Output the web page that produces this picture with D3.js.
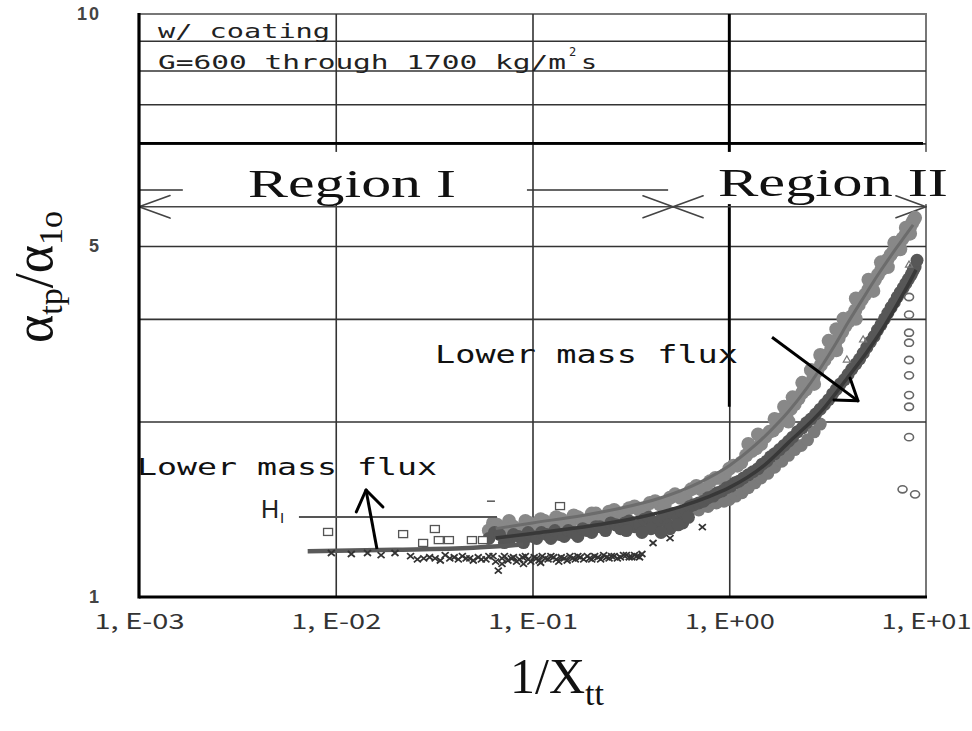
<!DOCTYPE html>
<html>
<head>
<meta charset="utf-8">
<title>alpha_tp / alpha_lo vs 1/Xtt</title>
<script src="https://d3js.org/d3.v7.min.js"></script>
<style>
	body{margin:0;background:#fff;}
</style>
</head>
<body>
<div id="chart"></div>
<script>
var w = 972, h = 731;

// ticks / gridlines
var xTickValues = [1e-3, 1e-2, 1e-1, 1, 10];
var xTickLabels = ["1, E-03", "1, E-02", "1, E-01", "1, E+00", "1, E+01"];
var xGridValues = [1e-2, 1e-1, 1];
var yTickValues = [1, 4, 10];          // the "5" label sits on the 4 gridline in the original
var yTickLabels = ["1", "5", "10"];
var yGridValues = [2, 3, 4, 5, 6, 7, 8, 9];

// measured points [1/Xtt, alpha_tp/alpha_lo]
var lightCloud = [
	[0.060,1.30],[0.063,1.34],[0.066,1.33],[0.069,1.31],[0.072,1.28],[0.076,1.35],[0.080,1.32],[0.084,1.30],
	[0.088,1.29],[0.092,1.35],[0.096,1.34],[0.100,1.31],[0.105,1.31],[0.110,1.36],[0.115,1.35],[0.120,1.33],
	[0.125,1.32],[0.132,1.37],[0.14,1.36],[0.147,1.34],[0.155,1.33],[0.162,1.38],[0.17,1.37],[0.18,1.35],
	[0.19,1.35],[0.20,1.39],[0.21,1.39],[0.22,1.37],[0.23,1.36],[0.245,1.40],[0.26,1.41],[0.275,1.39],
	[0.29,1.38],[0.31,1.42],[0.33,1.43],[0.35,1.41],[0.37,1.41],[0.395,1.45],[0.42,1.46],[0.445,1.44],
	[0.47,1.44],[0.50,1.48],[0.53,1.50],[0.565,1.48],[0.60,1.48],[0.64,1.53],[0.68,1.55],[0.72,1.53],
	[0.76,1.53],[0.80,1.58],[0.85,1.60],[0.90,1.60],[0.95,1.62],[1.00,1.66],[1.05,1.68],[1.10,1.68],
	[1.15,1.70],[1.22,1.75],[1.30,1.78],[1.37,1.80],[1.45,1.83],[1.52,1.88],[1.60,1.92],[1.67,1.93],
	[1.75,1.96],[1.85,2.02],[1.95,2.06],[2.05,2.10],[2.15,2.14],[2.25,2.19],[2.35,2.24],[2.45,2.27],
	[2.55,2.32],[2.68,2.38],[2.80,2.44],[2.92,2.50],[3.05,2.55],[3.17,2.60],[3.30,2.66],[3.45,2.72],
	[3.60,2.78],[3.75,2.85],[3.90,2.92],[4.05,2.97],[4.20,3.03],[4.37,3.10],[4.55,3.17],[4.72,3.24],
	[4.90,3.30],[5.10,3.37],[5.30,3.44],[5.50,3.50],[5.70,3.57],[5.92,3.64],[6.15,3.72],[6.37,3.79],
	[6.60,3.86],[6.85,3.92],[7.10,3.99],[7.35,4.05],[7.60,4.12],[7.85,4.18],[8.10,4.25],[8.30,4.31],
	[8.50,4.38],[8.65,4.43],[8.80,4.47],
	[1.40,1.90],[1.70,2.02],[2.10,2.20],[2.60,2.45],[3.20,2.75],[3.80,3.00],[4.40,3.25],[5.10,3.50],
	[5.90,3.75],[6.90,4.05],[7.90,4.30],[1.25,1.83],[1.9,2.12],[2.35,2.33],[2.9,2.6],[3.5,2.88],
	[2.00,2.00],[2.70,2.32],[3.50,2.65],[4.40,3.00],[5.40,3.35],[6.40,3.68],[7.40,3.95],[8.30,4.20]
];
// grey blobs hanging under the lower band
var midCloud = [
	[0.62,1.40],[0.70,1.41],[0.78,1.43],[0.86,1.45],[0.94,1.46],[1.00,1.47],[1.08,1.49],[1.16,1.51],
	[1.25,1.54],[1.35,1.57],[1.45,1.60],[1.57,1.63],[1.70,1.67],[1.85,1.71],[2.00,1.75],[2.15,1.79],
	[2.32,1.82],[2.50,1.86],[2.70,1.92],[2.90,1.98]
];
var darkCloud = [
	[0.060,1.26],[0.064,1.29],[0.068,1.28],[0.072,1.24],[0.076,1.25],[0.080,1.28],[0.085,1.27],[0.090,1.24],
	[0.095,1.29],[0.100,1.27],[0.105,1.26],[0.111,1.29],[0.118,1.28],[0.124,1.26],[0.13,1.30],[0.137,1.28],
	[0.145,1.27],[0.152,1.30],[0.16,1.29],[0.17,1.27],[0.18,1.31],[0.19,1.30],[0.20,1.29],[0.21,1.32],
	[0.22,1.32],[0.235,1.30],[0.25,1.34],[0.265,1.33],[0.28,1.31],[0.295,1.34],[0.31,1.35],[0.33,1.32],
	[0.35,1.33],[0.37,1.36],[0.39,1.37],[0.415,1.34],[0.44,1.35],[0.465,1.37],[0.49,1.33],[0.52,1.39],
	[0.55,1.37],[0.575,1.40],[0.60,1.41],[0.63,1.43],[0.66,1.44],[0.70,1.45],[0.74,1.46],[0.78,1.48],
	[0.83,1.49],[0.87,1.51],[0.92,1.52],[0.97,1.54],[1.02,1.55],[1.07,1.57],[1.12,1.58],[1.18,1.60],
	[1.25,1.62],[1.32,1.64],[1.40,1.66],[1.47,1.69],[1.55,1.71],[1.62,1.74],[1.70,1.76],[1.80,1.79],
	[1.90,1.82],[2.00,1.85],[2.10,1.88],[2.22,1.92],[2.35,1.95],[2.47,1.99],[2.60,2.02],[2.75,2.06],
	[2.90,2.10],[3.05,2.14],[3.20,2.18],[3.35,2.23],[3.50,2.27],[3.67,2.32],[3.85,2.36],[4.02,2.41],
	[4.20,2.46],[4.40,2.51],[4.60,2.56],[4.80,2.62],[5.00,2.68],[5.22,2.74],[5.45,2.80],[5.67,2.87],
	[5.90,2.93],[6.15,3.00],[6.40,3.07],[6.65,3.14],[6.90,3.20],[7.15,3.27],[7.40,3.33],[7.65,3.39],
	[7.90,3.45],[8.15,3.51],[8.40,3.57],[8.60,3.63],[8.80,3.68],[9.00,3.78],
	[0.30,1.30],[0.40,1.31],[0.50,1.31],[0.58,1.34],[0.45,1.29],[0.36,1.29],[0.55,1.33],[0.62,1.37]
];
var crossPts = [
	[0.0095,1.19],[0.012,1.185],[0.0145,1.19],[0.017,1.18],[0.020,1.19],[0.024,1.175],[0.026,1.16],[0.028,1.165],
	[0.030,1.17],[0.032,1.165],[0.034,1.155],[0.036,1.18],[0.038,1.165],[0.040,1.17],[0.042,1.16],[0.044,1.175],
	[0.046,1.165],[0.048,1.165],[0.050,1.155],[0.053,1.17],[0.055,1.16],[0.058,1.16],[0.060,1.175],[0.063,1.175],
	[0.065,1.15],[0.067,1.11],[0.070,1.165],[0.072,1.175],[0.075,1.155],[0.078,1.165],[0.080,1.17],[0.083,1.15],
	[0.086,1.16],[0.089,1.17],[0.092,1.175],[0.095,1.16],[0.098,1.15],[0.102,1.17],[0.105,1.165],[0.108,1.155],
	[0.112,1.175],[0.116,1.165],[0.120,1.16],[0.124,1.175],[0.128,1.17],[0.132,1.16],[0.136,1.15],[0.140,1.17],
	[0.145,1.165],[0.150,1.155],[0.155,1.175],[0.160,1.165],[0.165,1.16],[0.170,1.175],[0.175,1.17],[0.182,1.16],
	[0.19,1.175],[0.195,1.165],[0.20,1.16],[0.207,1.175],[0.215,1.17],[0.222,1.16],[0.23,1.18],[0.238,1.17],
	[0.245,1.165],[0.252,1.175],[0.26,1.175],[0.27,1.165],[0.28,1.17],[0.29,1.18],[0.30,1.18],[0.31,1.17],
	[0.32,1.17],[0.33,1.18],[0.34,1.175],[0.35,1.17],[0.36,1.185],
	[0.07,1.14],[0.09,1.14],[0.11,1.145],[0.41,1.238],[0.50,1.262],[0.73,1.318]
];
var squarePts = [
	[0.00914,1.293],[0.022,1.282],[0.0319,1.308],[0.0278,1.238],[0.0334,1.252],[0.0376,1.252],
	[0.0492,1.252],[0.056,1.252],[0.138,1.432]
];
var circlePts = [
	[8.2,3.27],[8.2,3.05],[8.2,2.84],[8.2,2.73],[8.2,2.55],[8.2,2.40],[8.2,2.22],[8.2,2.12],
	[8.2,1.88],[7.6,1.53],[8.8,1.50]
];
var trianglePts = [[4.79,2.76],[3.96,2.55],[8.2,3.71]];
var dashPts = [[0.0615,1.46]];

// fitted curves
var fitHigh = [
	[0.065,1.31],[0.1,1.34],[0.18,1.38],[0.28,1.42],[0.45,1.48],[0.7,1.57],[1.0,1.68],[1.3,1.80],
	[1.6,1.92],[2.0,2.08],[2.5,2.29],[3.0,2.51],[3.5,2.73],[4.0,2.95],[4.7,3.22],[5.7,3.57],[7.0,3.95],[8.6,4.35]
];
var fitLow = [
	[0.065,1.262],[0.1,1.285],[0.2,1.325],[0.35,1.37],[0.55,1.425],[0.8,1.49],[1.0,1.54],[1.5,1.68],
	[2.0,1.84],[3.0,2.10],[4.0,2.38],[5.0,2.63],[6.0,2.88],[7.0,3.14],[8.0,3.40],[8.9,3.64]
];
var fitRegionI = [[0.0072,1.198],[0.02,1.205],[0.05,1.215],[0.09,1.23]];

// annotation anchors
var hLevel = {x0: 0.0065, x1: 0.066, y: 1.372};
var arrowUp = {from: [0.0162, 1.209], to: [0.01425, 1.526]};
var arrowDown = {from: [1.65, 2.79], to: [4.51, 2.17]};
var regionArrowY = 4.67;
var regionSplitX = 0.518;
var regionBoxes = [{x0: 0.00167, x1: 0.0937}, {x0: 0.489, x1: 14}];
var regionBoxY = [4.72, 5.8];
var dividerY = 6;
var dividerX = 1, dividerXLow = 2.12;

var svg = d3.select('#chart').append('svg')
	.attr('width', w)
	.attr('height', h)
	.style('background', '#fff');

var x = d3.scaleLog().domain([1e-3, 10]).range([139, 926]);
var y = d3.scaleLog().domain([1, 10]).range([597, 14]);

// plot frame (top & right in grey)
svg.append('rect')
	.attr('x', x(1e-3)).attr('y', y(10))
	.attr('width', x(10) - x(1e-3)).attr('height', y(1) - y(10))
	.attr('fill', 'none').attr('stroke', '#777').attr('stroke-width', 2);

// gridlines through the axis generator
var gx = svg.append('g').attr('transform', 'translate(0,' + y(1) + ')')
	.call(d3.axisBottom(x).tickValues(xGridValues).tickSize(-(y(1) - y(10))).tickFormat(''));
gx.select('.domain').remove();
gx.selectAll('line').attr('stroke', '#333').attr('stroke-width', 1.6);

var gy = svg.append('g').attr('transform', 'translate(' + x(1e-3) + ',0)')
	.call(d3.axisLeft(y).tickValues(yGridValues).tickSize(-(x(10) - x(1e-3))).tickFormat(''));
gy.select('.domain').remove();
gy.selectAll('line').attr('stroke', '#333').attr('stroke-width', 1.6);

// thick dividers
svg.append('line')
	.attr('x1', x(1e-3)).attr('x2', x(10) - 3)
	.attr('y1', y(dividerY)).attr('y2', y(dividerY))
	.attr('stroke', '#000').attr('stroke-width', 2.8);
svg.append('line')
	.attr('x1', x(dividerX)).attr('x2', x(dividerX))
	.attr('y1', y(10)).attr('y2', y(dividerXLow))
	.attr('stroke', '#000').attr('stroke-width', 2.8);

// white boxes behind the region labels
svg.selectAll('rect.regionBox')
	.data(regionBoxes)
	.enter()
	.append('rect')
	.attr('class', 'regionBox')
	.attr('x', function(d){ return x(d.x0); })
	.attr('width', function(d){ return x(d.x1) - x(d.x0); })
	.attr('y', y(regionBoxY[1]))
	.attr('height', y(regionBoxY[0]) - y(regionBoxY[1]))
	.attr('fill', '#fff');

svg.append('text').text('Region I')
	.attr('x', 248).attr('y', 197)
	.attr('font-family', 'Liberation Serif, Times New Roman, serif')
	.attr('font-size', 41).attr('fill', '#111')
	.attr('textLength', 208).attr('lengthAdjust', 'spacingAndGlyphs');
svg.append('text').text('Region II')
	.attr('x', 718).attr('y', 196)
	.attr('font-family', 'Liberation Serif, Times New Roman, serif')
	.attr('font-size', 41).attr('fill', '#111')
	.attr('textLength', 230).attr('lengthAdjust', 'spacingAndGlyphs');

// small helper for open V arrowheads
function arrowHead(g, tip, from, len, spread, color, width){
	var a = Math.atan2(tip[1] - from[1], tip[0] - from[0]);
	[-1, 1].forEach(function(s){
		g.append('line')
			.attr('x1', tip[0]).attr('y1', tip[1])
			.attr('x2', tip[0] - len * Math.cos(a + s * spread))
			.attr('y2', tip[1] - len * Math.sin(a + s * spread))
			.attr('stroke', color).attr('stroke-width', width).attr('stroke-linecap', 'round');
	});
}

// region double arrows
var ra = svg.append('g');
var ry = y(regionArrowY);
ra.append('line')
	.attr('x1', x(1e-3)).attr('x2', x(10)).attr('y1', ry).attr('y2', ry)
	.attr('stroke', '#444').attr('stroke-width', 1.6);
arrowHead(ra, [x(1e-3), ry], [x(1e-3) + 10, ry], 33, 0.35, '#444', 1.6);
arrowHead(ra, [x(regionSplitX), ry], [x(regionSplitX) - 10, ry], 32, 0.35, '#444', 1.6);
arrowHead(ra, [x(regionSplitX), ry], [x(regionSplitX) + 10, ry], 32, 0.35, '#444', 1.6);
arrowHead(ra, [x(10), ry], [x(10) - 10, ry], 32, 0.35, '#444', 1.6);

// data clouds
function cloud(cls, pts, r, color){
	svg.selectAll('circle.' + cls)
		.data(pts).enter().append('circle')
		.attr('class', cls)
		.attr('cx', function(d){ return x(d[0]); })
		.attr('cy', function(d){ return y(d[1]); })
		.attr('r', r)
		.attr('fill', color);
}
cloud('light', lightCloud, 7, '#888');
cloud('mid', midCloud, 6.5, '#7a7a7a');
cloud('dark', darkCloud, 6.5, '#575757');

// fitted curves
var line = d3.line()
	.x(function(d){ return x(d[0]); })
	.y(function(d){ return y(d[1]); })
	.curve(d3.curveMonotoneX);

svg.append('path').datum(fitHigh).attr('d', line)
	.attr('fill', 'none').attr('stroke', '#6c6c6c').attr('stroke-width', 3);
svg.append('path').datum(fitLow).attr('d', line)
	.attr('fill', 'none').attr('stroke', '#383838').attr('stroke-width', 3.5);
svg.append('path').datum(fitRegionI).attr('d', line)
	.attr('fill', 'none').attr('stroke', '#5a5a5a').attr('stroke-width', 4.5);

// markers
svg.selectAll('path.cross')
	.data(crossPts).enter().append('path')
	.attr('class', 'cross')
	.attr('transform', function(d){ return 'translate(' + x(d[0]) + ',' + y(d[1]) + ')'; })
	.attr('d', 'M-3.5,-3L3.5,3M-3.5,3L3.5,-3')
	.attr('stroke', '#333').attr('stroke-width', 1.8);

svg.selectAll('rect.sq')
	.data(squarePts).enter().append('rect')
	.attr('class', 'sq')
	.attr('x', function(d){ return x(d[0]) - 4.5; })
	.attr('y', function(d){ return y(d[1]) - 3.5; })
	.attr('width', 9).attr('height', 7)
	.attr('fill', '#fff').attr('stroke', '#555').attr('stroke-width', 1.3);

svg.selectAll('ellipse.oc')
	.data(circlePts).enter().append('ellipse')
	.attr('class', 'oc')
	.attr('cx', function(d){ return x(d[0]); })
	.attr('cy', function(d){ return y(d[1]); })
	.attr('rx', 4.5).attr('ry', 3.6)
	.attr('fill', 'none').attr('stroke', '#666').attr('stroke-width', 1.6);

svg.selectAll('path.tri')
	.data(trianglePts).enter().append('path')
	.attr('class', 'tri')
	.attr('transform', function(d){ return 'translate(' + x(d[0]) + ',' + y(d[1]) + ')'; })
	.attr('d', d3.symbol().type(d3.symbolTriangle).size(22))
	.attr('fill', 'none').attr('stroke', '#777').attr('stroke-width', 1.2);

svg.selectAll('line.dash')
	.data(dashPts).enter().append('line')
	.attr('class', 'dash')
	.attr('x1', function(d){ return x(d[0]) - 4; })
	.attr('x2', function(d){ return x(d[0]) + 4; })
	.attr('y1', function(d){ return y(d[1]); })
	.attr('y2', function(d){ return y(d[1]); })
	.attr('stroke', '#555').attr('stroke-width', 1.5);

// H_I level
svg.append('line')
	.attr('x1', x(hLevel.x0)).attr('x2', x(hLevel.x1))
	.attr('y1', y(hLevel.y)).attr('y2', y(hLevel.y))
	.attr('stroke', '#555').attr('stroke-width', 2);
var hl = svg.append('text')
	.attr('x', 261).attr('y', 518)
	.attr('font-family', 'Liberation Sans, Arial, sans-serif')
	.attr('font-size', 25).attr('fill', '#222');
hl.append('tspan').text('H');
hl.append('tspan').text('I').attr('font-size', 15).attr('dx', 1).attr('dy', 5);

// "lower mass flux" arrows
var an = svg.append('g');
[arrowUp, arrowDown].forEach(function(a){
	var p0 = [x(a.from[0]), y(a.from[1])], p1 = [x(a.to[0]), y(a.to[1])];
	an.append('line')
		.attr('x1', p0[0]).attr('y1', p0[1]).attr('x2', p1[0]).attr('y2', p1[1])
		.attr('stroke', '#000').attr('stroke-width', 3);
	arrowHead(an, p1, p0, 24, 0.6, '#000', 3);
});

// annotation texts (wide gothic-like glyphs)
var mono = 'DejaVu Sans Mono, Liberation Mono, monospace';
svg.append('text').text('Lower mass flux')
	.attr('x', 435).attr('y', 363)
	.attr('font-family', mono).attr('font-size', 25).attr('fill', '#111')
	.attr('textLength', 303).attr('lengthAdjust', 'spacingAndGlyphs');
svg.append('text').text('Lower mass flux')
	.attr('x', 137).attr('y', 475)
	.attr('font-family', mono).attr('font-size', 23).attr('fill', '#111')
	.attr('textLength', 300).attr('lengthAdjust', 'spacingAndGlyphs');

svg.append('text').text('w/ coating')
	.attr('x', 158).attr('y', 38)
	.attr('font-family', mono).attr('font-size', 20).attr('fill', '#222')
	.attr('textLength', 172).attr('lengthAdjust', 'spacingAndGlyphs');
svg.append('text').text('G=600 through 1700 kg/m')
	.attr('x', 158).attr('y', 69)
	.attr('font-family', mono).attr('font-size', 20).attr('fill', '#222')
	.attr('textLength', 408).attr('lengthAdjust', 'spacingAndGlyphs');
svg.append('text').text('2')
	.attr('x', 569).attr('y', 56)
	.attr('font-family', mono).attr('font-size', 12).attr('fill', '#222');
svg.append('text').text('s')
	.attr('x', 581).attr('y', 69)
	.attr('font-family', mono).attr('font-size', 20).attr('fill', '#222')
	.attr('textLength', 16).attr('lengthAdjust', 'spacingAndGlyphs');

// axes lines (thick black left and bottom)
svg.append('line')
	.attr('x1', x(1e-3)).attr('x2', x(1e-3)).attr('y1', y(10) - 1).attr('y2', y(1) + 1.5)
	.attr('stroke', '#000').attr('stroke-width', 3.2);
svg.append('line')
	.attr('x1', x(1e-3)).attr('x2', x(10) + 1).attr('y1', y(1)).attr('y2', y(1))
	.attr('stroke', '#000').attr('stroke-width', 3.2);

// tick labels
var xa = svg.append('g').attr('transform', 'translate(0,' + y(1) + ')')
	.call(d3.axisBottom(x).tickValues(xTickValues).tickSize(0).tickPadding(17)
		.tickFormat(function(d, i){ return xTickLabels[i]; }));
xa.select('.domain').remove();
xa.selectAll('text')
	.attr('font-family', 'Noto Sans CJK JP, Liberation Sans, sans-serif')
	.attr('font-size', 21).attr('fill', '#333')
	.attr('textLength', 90).attr('lengthAdjust', 'spacingAndGlyphs');

var ya = svg.append('g').attr('transform', 'translate(' + x(1e-3) + ',0)')
	.call(d3.axisLeft(y).tickValues(yTickValues).tickSize(0).tickPadding(38)
		.tickFormat(function(d, i){ return yTickLabels[i]; }));
ya.select('.domain').remove();
ya.selectAll('text')
	.attr('font-family', 'Liberation Sans, Arial, sans-serif')
	.attr('font-weight', 'bold')
	.attr('font-size', 18).attr('letter-spacing', 2).attr('fill', '#444');

// axis titles
var serif = 'Liberation Serif, Times New Roman, serif';
var xt = svg.append('text')
	.attr('x', 510).attr('y', 693)
	.attr('font-family', serif).attr('font-size', 50).attr('fill', '#111');
xt.append('tspan').text('1/X');
xt.append('tspan').text('tt').attr('font-size', 34).attr('dy', 12);

var yt = svg.append('text')
	.attr('transform', 'translate(52,277) rotate(-90)')
	.attr('text-anchor', 'middle')
	.attr('font-family', serif).attr('font-size', 54).attr('fill', '#111');
yt.append('tspan').text('α');
yt.append('tspan').text('tp').attr('font-size', 34).attr('dy', 10);
yt.append('tspan').text('/α').attr('dy', -10);
yt.append('tspan').text('1o').attr('font-size', 34).attr('dy', 10);
</script>
</body>
</html>
